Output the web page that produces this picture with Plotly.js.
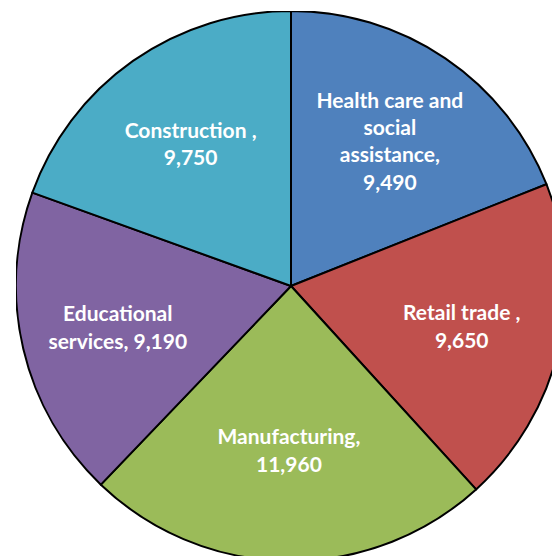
<!DOCTYPE html>
<html>
<head>
<meta charset="utf-8">
<script src="https://cdn.plot.ly/plotly-3.0.1.min.js"></script>
<style>
  html, body { margin: 0; padding: 0; overflow: hidden; background: #fff; width: 552px; height: 556px; }
  #chart { position: absolute; left: 16px; top: 11px; width: 550px; height: 550px; }
</style>
</head>
<body>
<div id="chart"></div>
<script>
var sectors = ["Health care and social assistance", "Retail trade", "Manufacturing", "Educational services", "Construction"];
var employees = [9490, 9650, 11960, 9190, 9750];
var labelText = [
  "Health care and<br>social<br>assistance,<br>9,490",
  "Retail trade ,<br>9,650",
  "Manufacturing,<br>11,960",
  "Educational<br>services, 9,190",
  "Construction ,<br>9,750"
];
var colors = ["#4F81BD", "#C0504D", "#9BBB59", "#8064A2", "#4BACC6"];

var trace = {
  type: "pie",
  labels: sectors,
  values: employees,
  text: labelText,
  textinfo: "text",
  textposition: "inside",
  insidetextorientation: "horizontal",
  sort: false,
  direction: "clockwise",
  rotation: 0,
  marker: {
    colors: colors,
    line: { color: "#000", width: 2 }
  },
  insidetextfont: { family: "Lato, 'Open Sans', sans-serif", size: 21, color: "#fff", weight: "bold" },
  hoverinfo: "label+value"
};

var layout = {
  width: 550,
  height: 550,
  margin: { l: 0, r: 0, t: 0, b: 0 },
  showlegend: false,
  paper_bgcolor: "rgba(0,0,0,0)"
};

Plotly.newPlot("chart", [trace], layout, { staticPlot: true });
</script>
</body>
</html>
